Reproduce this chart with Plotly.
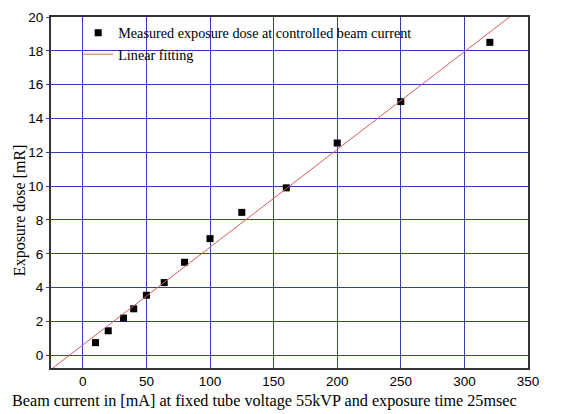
import numpy as np
import plotly.graph_objects as go

beam_current = [10, 20, 32, 40, 50, 64, 80, 100, 125, 160, 200, 250, 320]
exposure_dose = [0.75, 1.45, 2.2, 2.75, 3.55, 4.3, 5.5, 6.9, 8.45, 9.9, 12.55, 15.0, 18.5]

slope, intercept = np.polyfit(beam_current, exposure_dose, 1)
fit_x = np.array([-30.0, 360.0])
fit_y = intercept + slope * fit_x

SERIF = "Liberation Serif, Times New Roman"

fig = go.Figure()
fig.add_trace(go.Scatter(
    x=beam_current, y=exposure_dose, mode="markers",
    marker=dict(symbol="square", size=7, color="black"),
    name="Measured exposure dose at controlled beam current",
))
fig.add_trace(go.Scatter(
    x=fit_x, y=fit_y, mode="lines",
    line=dict(color="#d06060", width=1),
    name="Linear fitting",
))

axis_common = dict(
    showgrid=True, gridcolor="#3a3ab0", gridwidth=1,
    zeroline=False, showline=True, linecolor="#333333", linewidth=2,
    mirror=True,
    tickfont=dict(family="Liberation Sans, Arial", size=13.5, color="black"),
)

fig.update_layout(
    width=569, height=414,
    margin=dict(l=51, r=41, t=10, b=46),
    plot_bgcolor="white", paper_bgcolor="white",
    showlegend=True,
    legend=dict(
        x=0.057, y=1.0, xanchor="left", yanchor="top",
        bgcolor="rgba(0,0,0,0)",
        font=dict(family=SERIF, size=14.2, color="black"),
        itemwidth=30, tracegroupgap=0,
    ),
    xaxis=dict(
        range=[-25, 350], tickvals=[0, 50, 100, 150, 200, 250, 300, 350],
        ticks="",
        **axis_common,
    ),
    yaxis=dict(
        range=[-0.75, 20], tickvals=list(range(0, 21, 2)),
        ticks="outside", ticklen=3, tickcolor="#3a3ab0",
        **axis_common,
    ),
    annotations=[
        dict(text="Beam current in [mA] at fixed tube voltage 55kVP and exposure time 25msec",
             xref="paper", yref="paper", x=(264.5 - 51) / 477, y=-(402 - 368) / 358,
             xanchor="center", yanchor="middle", showarrow=False,
             font=dict(family=SERIF, size=16.2, color="black")),
        dict(text="Exposure dose [mR]", textangle=-90,
             xref="paper", yref="paper", x=-(51 - 20) / 477, y=(368 - 207) / 358,
             xanchor="center", yanchor="middle", showarrow=False,
             font=dict(family=SERIF, size=16, color="black")),
    ],
)

fig.write_html("out.html")
